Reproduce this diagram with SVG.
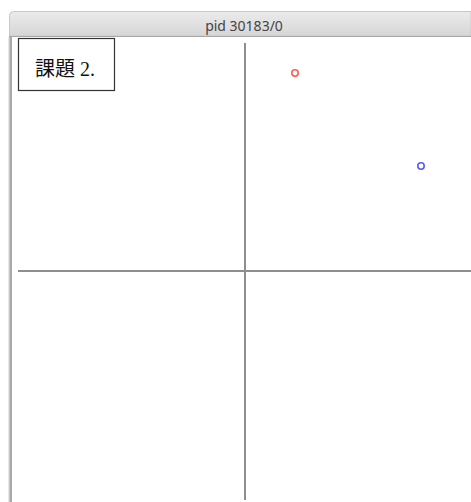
<svg xmlns="http://www.w3.org/2000/svg" width="471" height="502" viewBox="0 0 471 502">
<defs>
<linearGradient id="tb" x1="0" y1="0" x2="0" y2="1">
<stop offset="0" stop-color="#ebebeb"/>
<stop offset="1" stop-color="#d6d6d6"/>
</linearGradient>
<style>
.axis{stroke:#8e8e8e;stroke-width:2;fill:none}
.pt{fill:none;stroke-width:1.6}
.lbl{font-family:"Liberation Serif","DejaVu Serif","Noto Sans CJK JP",serif;font-size:20px;fill:#111111}
</style>
</defs>
<rect width="471" height="502" fill="#ffffff"/>
<g id="window">
<path d="M9.5,36 V15.5 Q9.5,11.5 13.5,11.5 H471 V36 Z" fill="url(#tb)" stroke="#c8c8c8" stroke-width="1"/>
<line x1="9" y1="36.5" x2="471" y2="36.5" stroke="#a8a8a8" stroke-width="1"/>
<rect x="8.5" y="37" width="1" height="465" fill="#cfcfcf"/>
<rect x="9.5" y="37" width="2.5" height="465" fill="#a9a9a9"/>
<text x="244" y="30.5" text-anchor="middle" font-family="'Noto Sans', 'Liberation Sans', sans-serif" font-size="14" fill="#444444">pid 30183/0</text>
</g>
<g id="axes">
<line class="axis" x1="245" y1="43" x2="245" y2="500"/>
<line class="axis" x1="18" y1="271" x2="471" y2="271"/>
</g>
<g id="label">
<rect x="18.5" y="38.5" width="96" height="52" fill="#ffffff" stroke="#333333" stroke-width="1.2"/>
<text class="lbl" x="35" y="75.5">課題 2.</text>
</g>
<g id="red-point">
<circle class="pt" cx="295" cy="73" r="3.2" stroke="#ff5a50"/>
</g>
<g id="blue-point">
<circle class="pt" cx="421" cy="166" r="3.2" stroke="#5a5aff"/>
</g>
</svg>
